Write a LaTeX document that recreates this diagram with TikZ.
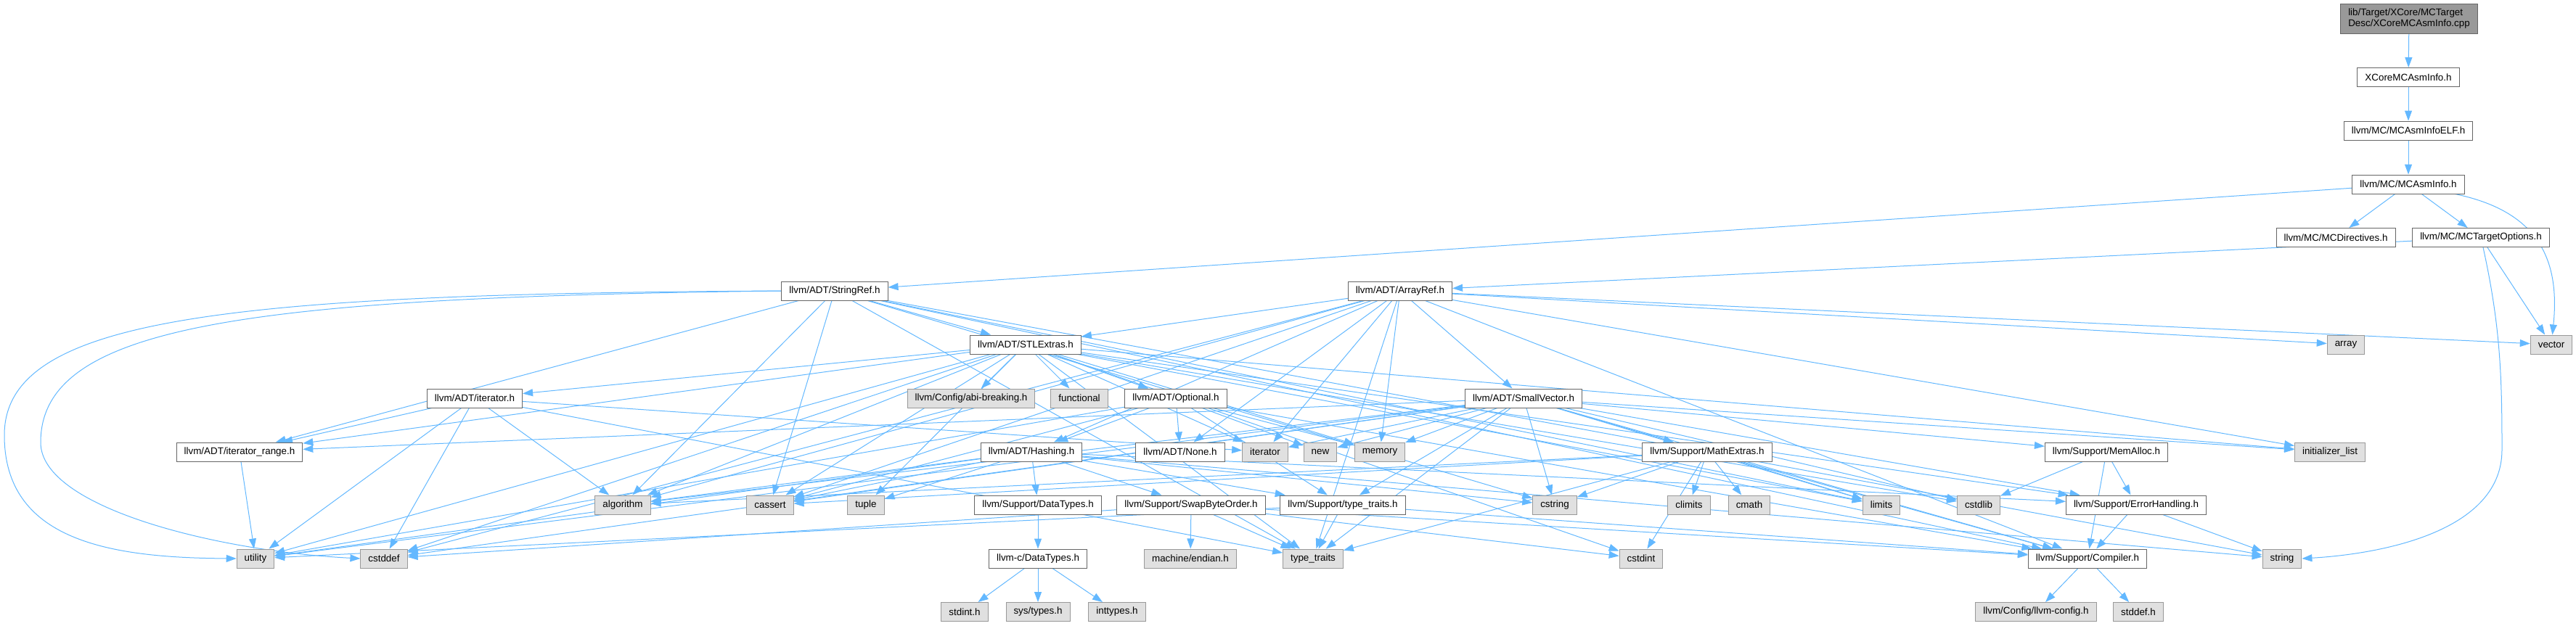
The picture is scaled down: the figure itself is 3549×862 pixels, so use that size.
\documentclass[tikz,border=0pt]{standalone}
\usepackage{fontspec}
\setmainfont{Liberation Sans}
\usetikzlibrary{arrows.meta}
\definecolor{depblue}{HTML}{63B8FF}
\pgfdeclarelayer{background}
\pgfsetlayers{background,main}

\begin{document}
\begin{tikzpicture}[x=1pt,y=-1pt,
  hdr/.style={draw=black!60,fill=white,line width=1pt,minimum height=26pt,
    inner xsep=10.5pt,inner ysep=0pt,font=\fontsize{13.4}{15.5}\selectfont},
  sys/.style={hdr,draw=black!40,fill=black!12},
  root/.style={hdr,fill=black!40,align=left,minimum height=41pt},
  dep/.style={draw=depblue,line width=1pt,-{Triangle[length=14pt,width=10pt]}}]
\useasboundingbox (0,0) rectangle (3549,862);

% upper chain
\node[root] (cpp) at (3319,25.5) {lib/Target/XCore/MCTarget\\Desc/XCoreMCAsmInfo.cpp};
\node[hdr] (xcoreinfo) at (3318,106.5) {XCoreMCAsmInfo.h};
\node[hdr] (infoelf) at (3318,180) {llvm/MC/MCAsmInfoELF.h};
\node[hdr] (asminfo) at (3318,254) {llvm/MC/MCAsmInfo.h};
\node[hdr] (mcdir) at (3218,327.5) {llvm/MC/MCDirectives.h};
\node[hdr] (mctopt) at (3418,327.5) {llvm/MC/MCTargetOptions.h};

% ADT headers
\node[hdr] (strref) at (1150,401) {llvm/ADT/StringRef.h};
\node[hdr] (arrref) at (1929,401) {llvm/ADT/ArrayRef.h};
\node[hdr] (stlext) at (1413,475) {llvm/ADT/STLExtras.h};
\node[sys] (arr) at (3232,475) {array};
\node[sys] (vec) at (3515,475) {vector};

\node[hdr] (iter) at (654,549) {llvm/ADT/iterator.h};
\node[sys] (abibrk) at (1338,549) {llvm/Config/abi-breaking.h};
\node[sys] (functional) at (1487,549) {functional};
\node[hdr] (optional) at (1620,549) {llvm/ADT/Optional.h};
\node[hdr] (smallvec) at (2099,549) {llvm/ADT/SmallVector.h};

\node[hdr] (iterrange) at (330,623) {llvm/ADT/iterator\_range.h};
\node[hdr] (hashing) at (1421,623) {llvm/ADT/Hashing.h};
\node[hdr] (none) at (1626,623) {llvm/ADT/None.h};
\node[sys] (iteratorstd) at (1743,623) {iterator};
\node[sys] (newstd) at (1819,623) {new};
\node[sys] (memory) at (1901,623) {memory};
\node[hdr] (mathext) at (2352,623) {llvm/Support/MathExtras.h};
\node[hdr] (memalloc) at (2902,623) {llvm/Support/MemAlloc.h};
\node[sys] (initlist) at (3210,623) {initializer\_list};

\node[sys] (algorithm) at (858,696) {algorithm};
\node[sys] (cassert) at (1061,696) {cassert};
\node[sys] (tuple) at (1193,696) {tuple};
\node[hdr] (datatypes) at (1430,696) {llvm/Support/DataTypes.h};
\node[hdr] (swapbyte) at (1641,696) {llvm/Support/SwapByteOrder.h};
\node[hdr] (typetraitsh) at (1850,696) {llvm/Support/type\_traits.h};
\node[sys] (cstring) at (2142,696) {cstring};
\node[sys] (climits) at (2327,696) {climits};
\node[sys] (cmath) at (2410,696) {cmath};
\node[sys] (limits) at (2592,696) {limits};
\node[sys] (cstdlib) at (2726,696) {cstdlib};
\node[hdr] (errhandl) at (2943,696) {llvm/Support/ErrorHandling.h};

\node[sys] (utility) at (352,770) {utility};
\node[sys] (cstddef) at (529,770) {cstddef};
\node[hdr] (cdatatypes) at (1430,770) {llvm-c/DataTypes.h};
\node[sys] (endian) at (1640,770) {machine/endian.h};
\node[sys] (typetraits) at (1809,770) {type\_traits};
\node[sys] (cstdint) at (2261,770) {cstdint};
\node[hdr] (compiler) at (2876,770) {llvm/Support/Compiler.h};
\node[sys] (string) at (3144,770) {string};

\node[sys] (stdinth) at (1329,843.5) {stdint.h};
\node[sys] (systypes) at (1430,843.5) {sys/types.h};
\node[sys] (inttypes) at (1539,843.5) {inttypes.h};
\node[sys] (llvmconfig) at (2805,843.5) {llvm/Config/llvm-config.h};
\node[sys] (stddefh) at (2946,843.5) {stddef.h};

% far-left bends of StringRef.h
\coordinate (bendA) at (6,600);
\coordinate (bendB) at (56,610);

\begin{pgfonlayer}{background}
% include edges
\draw[dep] (cpp) -- (xcoreinfo);
\draw[dep] (xcoreinfo) -- (infoelf);
\draw[dep] (infoelf) -- (asminfo);
\foreach \t in {mcdir,mctopt,strref}
  \draw[dep] (asminfo) -- (\t);
\draw[dep] (asminfo) .. controls (3490,290) and (3528,350) .. (vec);
\foreach \t in {arrref,vec}
  \draw[dep] (mctopt) -- (\t);
\draw[dep] (mctopt) .. controls (3445,450) and (3447,520) .. (3447,620)
  .. controls (3447,740) and (3260,765) .. (string.east);

\foreach \t in {stlext,iterrange,compiler,algorithm,cassert,cstring,limits,string,typetraits}
  \draw[dep] (strref) -- (\t);
\draw[dep] (strref.west) .. controls (300,405) and (6,440) .. (bendA)
  .. controls (6,745) and (150,769) .. (utility.west);
\draw[dep] (strref.west) .. controls (330,410) and (56,450) .. (bendB)
  .. controls (56,700) and (300,760) .. (cstddef.west);

\foreach \t in {hashing,none,smallvec,stlext,compiler,algorithm,arr,cassert,cstddef,initlist,iteratorstd,memory,typetraits,vec}
  \draw[dep] (arrref) -- (\t);

\foreach \t in {optional,iter,iterrange,abibrk,errhandl,algorithm,cassert,cstddef,cstdint,cstdlib,functional,initlist,iteratorstd,limits,memory,tuple,typetraits,utility}
  \draw[dep] (stlext) -- (\t);

\foreach \t in {hashing,none,compiler,typetraitsh,cassert,memory,newstd,utility}
  \draw[dep] (optional) -- (\t);

\foreach \t in {iterrange,algorithm,cstddef,iteratorstd,typetraits,utility}
  \draw[dep] (iter) -- (\t);

\foreach \t in {iterrange,compiler,errhandl,mathext,memalloc,typetraitsh,algorithm,cassert,cstddef,cstdlib,cstring,initlist,iteratorstd,limits,memory,newstd,typetraits,utility}
  \draw[dep] (smallvec) -- (\t);

\draw[dep] (iterrange) -- (utility);

\foreach \t in {datatypes,errhandl,swapbyte,typetraitsh,algorithm,cassert,cstring,string,tuple,utility}
  \draw[dep] (hashing) -- (\t);

\foreach \t in {compiler,algorithm,cassert,climits,cmath,cstdint,cstring,limits,typetraits}
  \draw[dep] (mathext) -- (\t);

\foreach \t in {compiler,errhandl,cstdlib}
  \draw[dep] (memalloc) -- (\t);

\draw[dep] (datatypes) -- (cdatatypes);
\foreach \t in {stdinth,systypes,inttypes}
  \draw[dep] (cdatatypes) -- (\t);

\foreach \t in {compiler,cstddef,cstdint,typetraits,endian}
  \draw[dep] (swapbyte) -- (\t);

\foreach \t in {compiler,typetraits,utility}
  \draw[dep] (typetraitsh) -- (\t);

\foreach \t in {compiler,string}
  \draw[dep] (errhandl) -- (\t);

\foreach \t in {llvmconfig,stddefh}
  \draw[dep] (compiler) -- (\t);
\end{pgfonlayer}
\end{tikzpicture}
\end{document}
